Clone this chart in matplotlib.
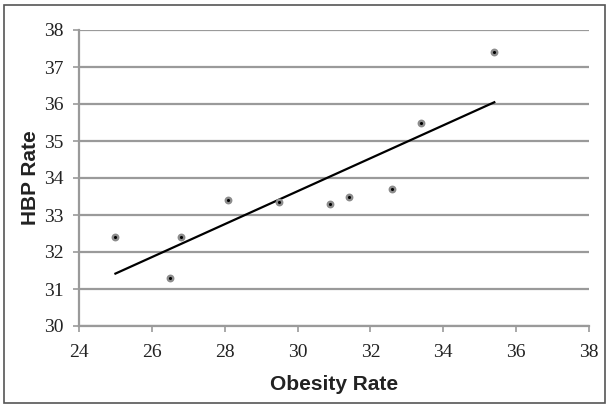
import numpy as np
import matplotlib
matplotlib.use('Agg')
import matplotlib.pyplot as plt
from matplotlib.patches import Rectangle

# Obesity rate vs high blood pressure rate
obesity_rate = [25.0, 26.5, 26.8, 28.1, 29.5, 30.9, 31.4, 32.6, 33.4, 35.4]
hbp_rate = [32.4, 31.3, 32.4, 33.4, 33.35, 33.3, 33.5, 33.7, 35.5, 37.4]

x_ticks = [24, 26, 28, 30, 32, 34, 36, 38]
y_ticks = [30, 31, 32, 33, 34, 35, 36, 37, 38]

grid_grey = '#9a9a9a'

fig = plt.figure(figsize=(6.12, 4.07), dpi=100)
ax = fig.add_axes([79 / 612, 1 - 326 / 407, 510 / 612, 296 / 407])

# linear trendline through the points
slope, intercept = np.polyfit(obesity_rate, hbp_rate, 1)
x_line = np.array([min(obesity_rate), max(obesity_rate)])
ax.plot(x_line, slope * x_line + intercept, color='black', lw=1.6, zorder=3)

# grey dots with a black centre
ax.scatter(obesity_rate, hbp_rate, s=32, color='#8c8c8c', zorder=4, linewidths=0)
ax.scatter(obesity_rate, hbp_rate, s=5, color='black', zorder=5, linewidths=0)

ax.set_xlim(24, 38)
ax.set_ylim(30, 38)
ax.set_xticks(x_ticks)
ax.set_yticks(y_ticks)
ax.yaxis.grid(True, color=grid_grey, lw=1.6)
ax.set_axisbelow(True)

for side in ['top', 'right']:
    ax.spines[side].set_visible(False)
for side in ['left', 'bottom']:
    ax.spines[side].set_color(grid_grey)
    ax.spines[side].set_linewidth(1.6)

ax.tick_params(axis='both', direction='out', length=4, width=1.2, color=grid_grey,
               labelsize=14, labelcolor='#222222')
ax.tick_params(axis='x', pad=9)
ax.tick_params(axis='y', pad=7)
for lbl in ax.get_xticklabels() + ax.get_yticklabels():
    lbl.set_fontfamily('Liberation Serif')

ax.set_xlabel('Obesity Rate', fontsize=15, fontweight='bold', family='Liberation Sans',
              color='#222222', labelpad=10)
ax.set_ylabel('HBP Rate', fontsize=15, fontweight='bold', family='Liberation Sans',
              color='#222222', labelpad=3)

# outer border round the whole chart
fig.patches.append(Rectangle((4 / 612, 4 / 407), 601 / 612, 398 / 407,
                             transform=fig.transFigure, fill=False,
                             edgecolor='#555555', lw=1.2))

plt.savefig('out.png', dpi=100)
